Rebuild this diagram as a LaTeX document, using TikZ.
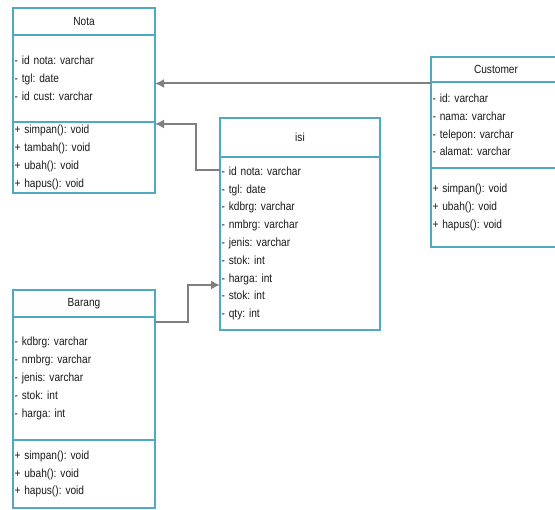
\documentclass[tikz,border=0pt]{standalone}
\usepackage{fontspec}
\setmainfont{Liberation Sans}[FakeStretch=0.86,WordSpace=0.9]
\usetikzlibrary{positioning,arrows.meta}
\definecolor{umlblue}{HTML}{4FA9C2}
\definecolor{linkgray}{HTML}{7F7F7F}
\definecolor{txtgray}{HTML}{1A1A1A}
\frenchspacing

\begin{document}
\begin{tikzpicture}[x=1pt,y=-1pt,
    class part/.style={draw=umlblue,line width=2.8pt,outer sep=0pt,
      inner xsep=1.5pt,inner ysep=0pt,text width=#1,align=left,
      text=txtgray,font=\fontsize{11.8}{17.8}\selectfont\frenchspacing},
    class head/.style={class part=#1,align=center},
    link/.style={draw=linkgray,line width=2pt,
      -{Latex[length=9pt,width=9pt]}}]

  \path[use as bounding box,fill=white] (0,0) rectangle (555,510);

  % Nota
  \node[class head=139,minimum height=27,anchor=north west] (nota) at (13,8) {Nota};
  \node[class part=139,minimum height=87,below=0pt of nota] (notaattr)
    {- id nota: varchar\\- tgl: date\\- id cust: varchar};
  \node[class part=139,minimum height=71,below=0pt of notaattr] (notaops)
    {+ simpan(): void\\+ tambah(): void\\+ ubah(): void\\+ hapus(): void};

  % Customer
  \node[class head=127,minimum height=25,anchor=north west] (cust) at (431,57) {Customer};
  \node[class part=127,minimum height=86,below=0pt of cust] (custattr)
    {- id: varchar\\- nama: varchar\\- telepon: varchar\\- alamat: varchar};
  \node[class part=127,minimum height=79,below=0pt of custattr] (custops)
    {+ simpan(): void\\+ ubah(): void\\+ hapus(): void};

  % isi
  \node[class head=157,minimum height=39,anchor=north west] (isi) at (220,118) {isi};
  \node[class part=157,minimum height=173,below=0pt of isi] (isiattr)
    {- id nota: varchar\\- tgl: date\\- kdbrg: varchar\\- nmbrg: varchar\\- jenis: varchar\\
     - stok: int\\- harga: int\\- stok: int\\- qty: int};

  % Barang
  \node[class head=139,minimum height=27,anchor=north west] (barang) at (13,290) {Barang};
  \node[class part=139,minimum height=123,below=0pt of barang] (barangattr)
    {- kdbrg: varchar\\- nmbrg: varchar\\- jenis: varchar\\- stok: int\\- harga: int};
  \node[class part=139,minimum height=68,below=0pt of barangattr] (barangops)
    {+ simpan(): void\\+ ubah(): void\\+ hapus(): void};

  % relasi
  \draw[link] ([yshift=-1.5pt]custattr.north west) -- ([yshift=-1.5pt]custattr.north west -| notaattr.east);
  \draw[link] ([yshift=-13pt]isiattr.north west) -- ++(-24,0) |- ([yshift=-2pt]notaops.north east);
  \draw[link] ([yshift=-5pt]barangattr.north east) -- ++(33,0) |- ([yshift=45pt]isiattr.south west);
\end{tikzpicture}
\end{document}
